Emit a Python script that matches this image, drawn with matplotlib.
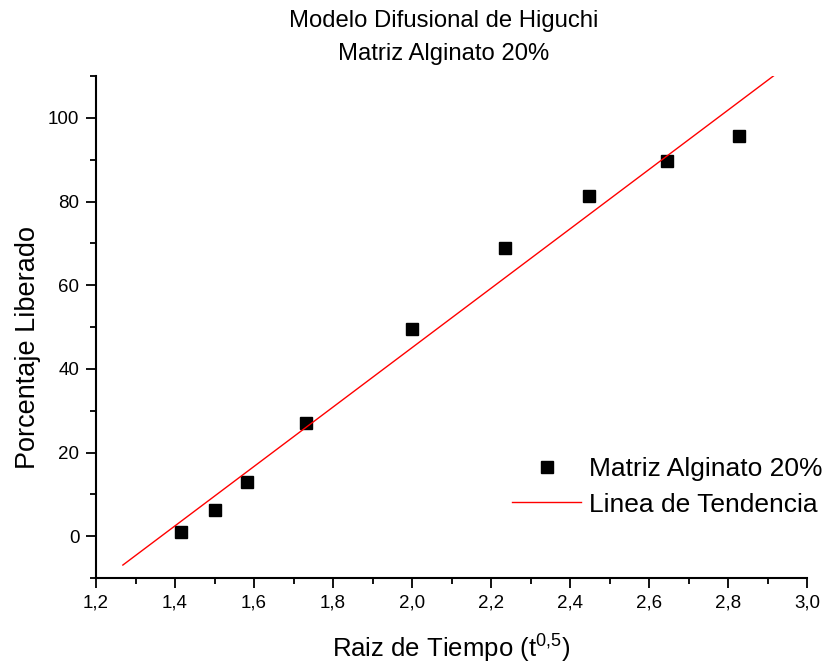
import matplotlib
matplotlib.use("Agg")
import matplotlib.pyplot as plt
from matplotlib.ticker import MultipleLocator, FuncFormatter

plt.rcParams['font.family'] = ['Liberation Sans', 'DejaVu Sans']
plt.rcParams['mathtext.default'] = 'regular'

# data
raiz_tiempo = [1.414, 1.50, 1.581, 1.732, 2.0, 2.236, 2.449, 2.646, 2.828]
porcentaje = [1.0, 6.2, 12.9, 27.1, 49.6, 68.8, 81.2, 89.8, 95.6]

# trend line end points
tend_x = [1.268, 2.919]
tend_y = [-6.9, 110.3]

fig = plt.figure(figsize=(8.29, 6.65), dpi=100)
ax = fig.add_axes([0.1158, 0.1308, 0.8577, 0.7549])

ax.plot(raiz_tiempo, porcentaje, "s", color="black", markersize=8, label="Matriz Alginato 20%")
ax.plot(tend_x, tend_y, "-", color="red", linewidth=1, label="Linea de Tendencia")

ax.set_xlim(1.2, 3.0)
ax.set_ylim(-10, 110)
ax.xaxis.set_major_locator(MultipleLocator(0.2))
ax.xaxis.set_minor_locator(MultipleLocator(0.1))
ax.yaxis.set_major_locator(MultipleLocator(20))
ax.yaxis.set_minor_locator(MultipleLocator(10))
ax.xaxis.set_major_formatter(FuncFormatter(lambda v, p: ("%.1f" % v).replace(".", ",")))

for s in ["top", "right"]:
    ax.spines[s].set_visible(False)
for s in ["left", "bottom"]:
    ax.spines[s].set_linewidth(1.5)

ax.tick_params(which="major", direction="out", length=7, width=1.3, labelsize=13.5, pad=5)
ax.tick_params(which="minor", direction="out", length=4, width=1.3)

ax.set_xlabel("Raiz de Tiempo (t$^{0{,}5}$)", fontsize=18.5, va="baseline")
ax.xaxis.set_label_coords(0.5, -0.159)
ax.set_ylabel("Porcentaje Liberado", fontsize=19.5, va="center")
ax.yaxis.set_label_coords(-0.0956, 0.46)

# two line title
fig.text(0.5356, 0.9594, "Modelo Difusional de Higuchi", fontsize=17.2, ha="center", va="baseline")
fig.text(0.5356, 0.9098, "Matriz Alginato 20%", fontsize=17.2, ha="center", va="baseline")

ax.legend(loc="lower right", bbox_to_anchor=(1.055, 0.075), frameon=False, fontsize=19,
          handlelength=2.6, handletextpad=0.3, labelspacing=0.45, numpoints=1)

fig.savefig("out.png", dpi=100)
